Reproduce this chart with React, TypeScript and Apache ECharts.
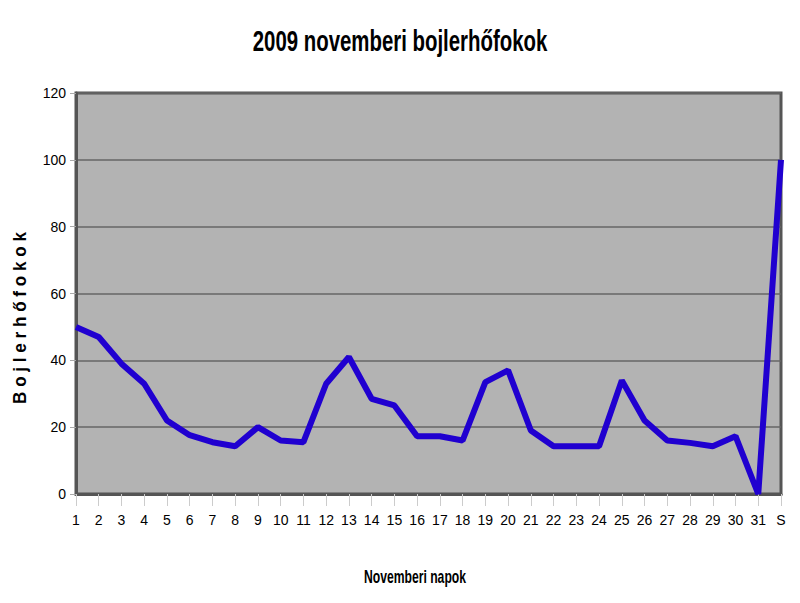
import React, { useEffect, useRef } from "react";
import * as echarts from "echarts";

const title = "2009 novemberi bojlerhőfokok";
const xName = "Novemberi napok";
const yName = "B o j l e r h ő f o k o k";
const days = [
  "1", "2", "3", "4", "5", "6", "7", "8", "9", "10", "11", "12", "13", "14", "15", "16",
  "17", "18", "19", "20", "21", "22", "23", "24", "25", "26", "27", "28", "29", "30", "31", "S",
];
const temps = [
  50, 47, 39, 33, 22, 17.6, 15.5, 14.3, 20, 16, 15.5, 33, 41, 28.5, 26.5, 17.3,
  17.3, 16, 33.5, 37, 19, 14.3, 14.3, 14.3, 34, 22, 16, 15.3, 14.3, 17.3, 0, 100,
];

const FONT = "'Liberation Sans', Arial, sans-serif";

export default function App() {
  const ref = useRef<HTMLDivElement>(null);
  useEffect(() => {
    if (!ref.current) return;
    const chart = echarts.init(ref.current, undefined, { renderer: "svg" });
    chart.setOption({
      animation: false,
      backgroundColor: "#ffffff",
      graphic: [
        {
          type: "text",
          x: 400,
          y: 40,
          scaleX: 0.68,
          style: {
            text: title,
            fontFamily: FONT,
            fontSize: 30,
            fontWeight: "bold",
            fill: "#000",
            textAlign: "center",
            textVerticalAlign: "middle",
          },
        },
        {
          type: "text",
          x: 415,
          y: 576,
          scaleX: 0.64,
          style: {
            text: xName,
            fontFamily: FONT,
            fontSize: 19,
            fontWeight: "bold",
            fill: "#000",
            textAlign: "center",
            textVerticalAlign: "middle",
          },
        },
        {
          type: "text",
          x: 20,
          y: 318,
          rotation: Math.PI / 2,
          scaleX: 0.9,
          style: {
            text: yName,
            fontFamily: FONT,
            fontSize: 19,
            fontWeight: "bold",
            fill: "#000",
            textAlign: "center",
            textVerticalAlign: "middle",
          },
        },
      ],
      grid: {
        left: 76,
        right: 19,
        top: 93,
        bottom: 109,
        show: true,
        backgroundColor: "#b3b3b3",
        borderColor: "#555555",
        borderWidth: 3,
      },
      xAxis: {
        type: "category",
        data: days,
        boundaryGap: false,
        axisLine: { show: true, lineStyle: { color: "#555555", width: 3 } },
        axisTick: { show: true, length: 12, alignWithLabel: true, lineStyle: { color: "#cccccc" } },
        axisLabel: { fontFamily: FONT, fontSize: 14, color: "#000", margin: 19, interval: 0 },
        splitLine: { show: false },
      },
      yAxis: {
        type: "value",
        min: 0,
        max: 120,
        interval: 20,
        axisLine: { show: true, lineStyle: { color: "#555555", width: 3 } },
        axisTick: { show: true, length: 6, lineStyle: { color: "#aaaaaa" } },
        axisLabel: { fontFamily: FONT, fontSize: 14, color: "#000", margin: 10 },
        splitLine: { show: true, lineStyle: { color: "#666666", width: 1.5 } },
      },
      series: [
        {
          type: "line",
          data: temps,
          showSymbol: false,
          symbol: "none",
          clip: false,
          lineStyle: { color: "#2000d0", width: 6 },
        },
      ],
    });
    return () => chart.dispose();
  }, []);
  return (
    <div
      ref={ref}
      style={{ position: "absolute", left: 0, top: 0, width: 800, height: 603 }}
    />
  );
}
